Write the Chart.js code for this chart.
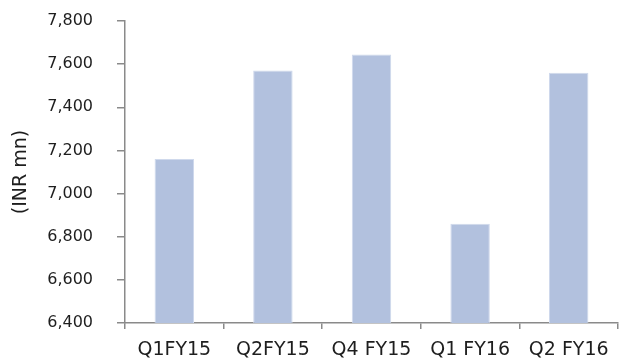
<!DOCTYPE html>
<html>
<head>
<meta charset="utf-8">
<script src="https://cdn.jsdelivr.net/npm/chart.js@4/dist/chart.umd.min.js"></script>
<style>
  html, body { margin: 0; padding: 0; background: #fff; }
  #wrap { width: 619px; height: 363px; position: relative; }
</style>
</head>
<body>
<div id="wrap"><canvas id="c"></canvas></div>
<script>
// Quarterly revenue, INR mn
const quarters = ['Q1FY15', 'Q2FY15', 'Q4 FY15', 'Q1 FY16', 'Q2 FY16'];
const revenue = [7160, 7570, 7645, 6860, 7560];
const yMin = 6400;
const yMax = 7800;
const yStep = 200;

const axisColor = '#8a8a8a';
const textColor = '#1e1e1e';

new Chart(document.getElementById('c'), {
  type: 'bar',
  data: {
    labels: quarters,
    datasets: [{
      data: revenue,
      backgroundColor: '#b2c1de',
      borderColor: '#cfd9ec',
      borderWidth: 1,
      barPercentage: 0.4,
      categoryPercentage: 1.0
    }]
  },
  options: {
    responsive: true,
    maintainAspectRatio: false,
    animation: false,
    layout: { padding: { top: 21, right: 1, left: 0, bottom: 0 } },
    plugins: { legend: { display: false }, tooltip: { enabled: false } },
    scales: {
      x: {
        offset: true,
        grid: {
          offset: true,
          drawOnChartArea: false,
          drawTicks: true,
          tickLength: 6,
          color: axisColor,
          lineWidth: 1.5
        },
        border: { display: true, color: axisColor, width: 1.5 },
        ticks: {
          color: textColor,
          padding: 10,
          maxRotation: 0,
          autoSkip: false,
          font: { family: 'DejaVu Sans', size: 19 }
        },
        afterFit(scale) { scale.height = 40; }
      },
      y: {
        min: yMin,
        max: yMax,
        grid: {
          drawOnChartArea: false,
          drawTicks: true,
          tickLength: 8,
          color: axisColor,
          lineWidth: 1.5
        },
        border: { display: true, color: axisColor, width: 1.5 },
        ticks: {
          stepSize: yStep,
          color: textColor,
          padding: 24,
          font: { family: 'DejaVu Sans', size: 16 },
          callback: v => v.toLocaleString('en-US')
        },
        title: {
          display: true,
          text: '(INR mn)',
          color: textColor,
          padding: { top: 10, bottom: 0 },
          font: { family: 'DejaVu Sans', size: 19 }
        },
        afterFit(scale) {
          // fixed axis width; let layout padding alone set the plot top
          scale.width = 125;
          scale.paddingTop = 0;
          scale.paddingBottom = 0;
        }
      }
    }
  }
});
</script>
</body>
</html>
